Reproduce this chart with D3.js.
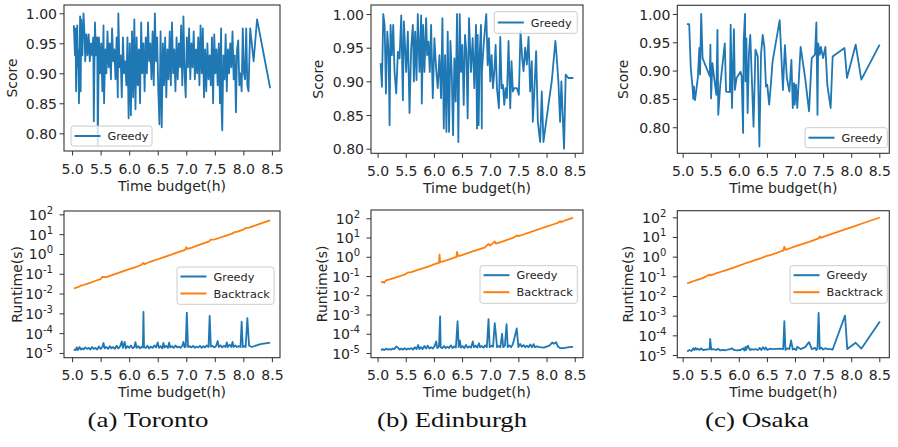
<!DOCTYPE html>
<html><head><meta charset="utf-8">
<script src="https://cdn.jsdelivr.net/npm/d3@7"></script>
<style>body{margin:0;background:#fff}svg{display:block}</style>
</head><body>
<svg id="chart" width="898" height="447"></svg>
<script>
// ---------------- data ----------------
const captions = ["(a) Toronto", "(b) Edinburgh", "(c) Osaka"];
const seriesNames = ["Greedy", "Backtrack"];
const xTicks = [5.0, 5.5, 6.0, 6.5, 7.0, 7.5, 8.0, 8.5];
const scoreTicks = [0.80, 0.85, 0.90, 0.95, 1.00];
const runtimeTicks = [1e-5, 1e-4, 1e-3, 1e-2, 1e-1, 1e0, 1e1, 1e2];
const xLabel = "Time budget(h)";
const scoreLabel = "Score";
const runtimeLabel = "Runtime(s)";

// Toronto: score of greedy [time budget h, score]
const scoreToronto = [
[5.03,0.98],[5.05,0.93],[5.06,0.975],[5.07,0.87],[5.09,0.98],[5.10,0.91],[5.11,0.94],[5.12,0.85],[5.14,0.995],[5.15,0.87],
[5.16,0.99],[5.18,0.93],[5.20,1.00],[5.22,0.96],[5.23,0.92],[5.25,0.965],[5.27,0.93],[5.29,0.965],[5.31,0.92],[5.33,0.95],
[5.35,0.93],[5.37,0.96],[5.38,0.82],[5.40,0.985],[5.42,0.93],[5.44,0.96],[5.45,0.78],[5.47,0.96],[5.49,0.90],[5.51,0.95],
[5.53,0.87],[5.55,0.98],[5.56,0.85],[5.58,0.94],[5.60,0.90],[5.62,0.97],[5.64,0.91],[5.66,0.95],[5.68,0.89],[5.70,0.975],
[5.72,0.92],[5.74,0.94],[5.76,0.89],[5.78,0.96],[5.80,0.86],[5.81,1.00],[5.83,0.91],[5.85,0.93],[5.87,0.86],[5.89,0.96],
[5.91,0.90],[5.93,0.92],[5.95,0.88],[5.97,0.96],[5.99,0.825],[6.01,0.95],[6.03,0.83],[6.05,0.97],[6.07,0.86],[6.09,0.99],
[6.11,0.84],[6.13,0.96],[6.15,0.88],[6.17,0.94],[6.19,0.85],[6.21,0.985],[6.23,0.90],[6.25,0.95],[6.27,0.87],[6.29,0.96],
[6.31,0.90],[6.33,0.985],[6.35,0.92],[6.37,0.95],[6.39,0.89],[6.41,0.97],[6.43,0.88],[6.45,1.00],[6.47,0.92],[6.49,0.96],
[6.51,0.87],[6.53,0.815],[6.55,0.97],[6.57,0.81],[6.59,0.95],[6.61,0.88],[6.63,0.96],[6.65,0.86],[6.67,0.94],[6.69,0.89],
[6.71,0.97],[6.73,0.88],[6.75,0.985],[6.77,0.90],[6.79,0.94],[6.81,0.87],[6.83,0.96],[6.85,0.89],[6.87,0.95],[6.89,0.91],
[6.91,0.98],[6.93,0.88],[6.95,0.995],[6.97,0.90],[6.99,0.86],[7.01,0.96],[7.03,0.91],[7.05,0.975],[7.07,0.89],[7.09,0.95],
[7.11,0.91],[7.13,0.97],[7.15,0.89],[7.17,0.94],[7.19,0.90],[7.21,0.96],[7.23,0.88],[7.25,0.98],[7.27,0.90],[7.29,0.975],
[7.31,0.86],[7.33,0.94],[7.35,0.87],[7.37,0.95],[7.39,0.89],[7.41,0.93],[7.43,0.88],[7.45,0.96],[7.47,0.85],[7.49,0.965],
[7.51,0.90],[7.53,0.94],[7.55,0.88],[7.57,0.95],[7.59,0.85],[7.61,0.975],[7.62,0.835],[7.63,0.805],[7.65,0.93],[7.67,0.89],
[7.69,0.965],[7.71,0.87],[7.73,0.94],[7.75,0.90],[7.77,0.95],[7.79,0.91],[7.81,0.97],[7.83,0.89],[7.85,0.93],[7.87,0.835],
[7.89,0.94],[7.91,0.955],[7.93,0.88],[7.95,0.90],[7.97,0.87],[7.99,0.975],[8.01,0.90],[8.03,0.89],[8.05,0.975],[8.07,0.88],
[8.09,0.87],[8.12,0.975],[8.18,0.92],[8.24,0.99],[8.47,0.875]
];
const greedyRuntimeToronto = [
[5.03,1.5e-5],[5.06,1.4e-5],[5.08,1.9e-5],[5.10,1.4e-5],[5.13,2.0e-5],[5.15,1.5e-5],[5.18,1.7e-5],[5.20,1.5e-5],[5.23,1.9e-5],[5.26,1.6e-5],
[5.29,1.8e-5],[5.32,1.5e-5],[5.35,2.0e-5],[5.38,1.6e-5],[5.41,1.8e-5],[5.44,1.5e-5],[5.47,2.1e-5],[5.50,1.6e-5],[5.53,2.0e-5],[5.55,3.2e-5],
[5.57,1.7e-5],[5.60,2.0e-5],[5.63,1.6e-5],[5.66,2.2e-5],[5.69,1.7e-5],[5.72,2.0e-5],[5.75,1.6e-5],[5.78,2.3e-5],[5.81,1.7e-5],[5.84,2.1e-5],
[5.87,3.8e-5],[5.89,1.8e-5],[5.92,3.6e-5],[5.94,1.7e-5],[5.97,2.2e-5],[6.00,1.8e-5],[6.03,2.4e-5],[6.06,1.7e-5],[6.09,2.0e-5],[6.11,3.5e-5],
[6.13,1.8e-5],[6.16,2.2e-5],[6.19,1.7e-5],[6.22,2.1e-5],[6.24,1.9e-5],[6.25,1.2e-3],[6.26,2.0e-5],[6.29,1.8e-5],[6.32,2.3e-5],[6.35,1.7e-5],
[6.38,2.1e-5],[6.41,1.8e-5],[6.44,2.4e-5],[6.47,1.9e-5],[6.50,3.4e-5],[6.52,1.8e-5],[6.55,2.2e-5],[6.58,1.7e-5],[6.60,3.2e-5],[6.62,1.9e-5],
[6.65,2.3e-5],[6.68,1.8e-5],[6.70,3.3e-5],[6.72,1.9e-5],[6.75,2.2e-5],[6.78,1.8e-5],[6.81,2.4e-5],[6.84,1.9e-5],[6.87,2.1e-5],[6.90,1.8e-5],
[6.93,2.3e-5],[6.95,3.6e-5],[6.97,1.9e-5],[6.99,2.1e-5],[7.01,1.1e-3],[7.03,2.0e-5],[7.06,2.2e-5],[7.09,1.9e-5],[7.12,2.3e-5],[7.15,1.8e-5],
[7.18,2.1e-5],[7.21,1.9e-5],[7.24,2.3e-5],[7.27,1.8e-5],[7.30,2.2e-5],[7.33,1.9e-5],[7.36,2.4e-5],[7.39,2.0e-5],[7.41,7.5e-4],[7.43,2.1e-5],
[7.46,2.3e-5],[7.49,1.9e-5],[7.52,2.2e-5],[7.55,4.0e-5],[7.57,2.0e-5],[7.60,2.4e-5],[7.63,1.9e-5],[7.66,2.3e-5],[7.69,2.0e-5],[7.71,3.4e-5],
[7.73,2.0e-5],[7.76,2.6e-5],[7.79,2.0e-5],[7.81,3.6e-5],[7.83,2.0e-5],[7.86,2.4e-5],[7.89,2.0e-5],[7.92,2.2e-5],[7.95,2.0e-5],[7.97,3.8e-4],
[7.99,2.0e-5],[8.02,2.2e-5],[8.04,2.0e-5],[8.07,5.8e-4],[8.10,2.3e-5],[8.15,2.0e-5],[8.30,2.8e-5],[8.47,3.3e-5]
];
const backtrackRuntimeToronto = [
[5.03,0.018],[5.10,0.021],[5.15,0.025],[5.20,0.027],[5.30,0.034],[5.40,0.043],[5.50,0.054],[5.53,0.07],[5.60,0.068],[5.70,0.085],
[5.80,0.107],[5.90,0.135],[6.00,0.17],[6.10,0.21],[6.20,0.27],[6.25,0.35],[6.27,0.30],[6.30,0.34],[6.40,0.43],[6.50,0.54],
[6.60,0.68],[6.70,0.85],[6.80,1.07],[6.90,1.35],[6.98,1.6],[7.00,2.2],[7.02,1.8],[7.10,2.1],[7.20,2.7],[7.30,3.4],
[7.40,4.3],[7.42,5.2],[7.50,5.4],[7.60,6.8],[7.70,8.5],[7.80,10.7],[7.85,12.6],[7.90,13.5],[8.00,17],[8.05,21],
[8.10,21.4],[8.20,27],[8.30,34],[8.40,43],[8.47,50]
];

// Edinburgh
const scoreEdinburgh = [
[5.054,0.927],[5.077,0.892],[5.101,1.0],[5.125,0.984],[5.148,0.882],[5.172,0.974],[5.195,0.944],[5.213,0.835],[5.23,0.984],[5.254,0.939],
[5.278,0.984],[5.301,0.914],[5.331,0.882],[5.36,0.944],[5.39,0.934],[5.42,0.998],[5.449,0.872],[5.467,0.989],[5.508,0.914],[5.537,0.974],
[5.567,0.853],[5.596,0.949],[5.626,0.984],[5.644,0.90],[5.667,0.974],[5.691,0.902],[5.714,1.0],[5.744,0.914],[5.773,0.998],[5.785,0.867],
[5.809,0.984],[5.832,0.914],[5.862,0.994],[5.88,0.939],[5.903,0.959],[5.927,0.914],[5.95,0.984],[5.98,0.875],[6.009,0.964],[6.039,0.919],
[6.068,0.89],[6.098,0.939],[6.127,0.875],[6.151,0.994],[6.175,0.83],[6.198,0.939],[6.222,0.825],[6.245,0.974],[6.269,0.825],[6.293,0.96],
[6.316,0.914],[6.34,0.82],[6.363,0.934],[6.387,0.87],[6.41,1.0],[6.434,0.81],[6.458,1.0],[6.481,0.914],[6.505,0.954],[6.529,0.865],
[6.552,0.969],[6.576,0.944],[6.599,0.845],[6.623,0.994],[6.658,0.914],[6.688,0.964],[6.717,0.89],[6.747,0.984],[6.765,0.83],[6.777,0.969],
[6.794,0.835],[6.812,0.939],[6.836,0.984],[6.85,0.83],[6.853,0.914],[6.883,0.954],[6.907,0.979],[6.93,1.0],[6.954,0.924],[6.977,0.964],
[7.0,0.90],[7.025,0.939],[7.048,0.89],[7.072,0.914],[7.095,0.954],[7.119,0.89],[7.154,0.86],[7.178,0.966],[7.202,0.89],[7.225,0.895],
[7.249,0.865],[7.272,0.89],[7.296,0.875],[7.325,0.96],[7.355,0.86],[7.378,0.93],[7.402,0.885],[7.426,0.89],[7.473,0.89],[7.508,0.88],
[7.538,0.975],[7.567,0.935],[7.591,0.915],[7.62,0.95],[7.65,0.925],[7.68,0.966],[7.709,0.885],[7.738,0.93],[7.756,0.84],[7.78,0.88],
[7.815,0.945],[7.845,0.84],[7.886,0.81],[7.915,0.885],[7.945,0.81],[8.033,0.865],[8.092,0.90],[8.157,0.96],[8.181,0.935],[8.21,0.90],
[8.24,0.84],[8.263,0.90],[8.31,0.80],[8.34,0.91],[8.387,0.905],[8.476,0.905]
];
const greedyRuntimeEdinburgh = [
[5.06,1.4e-5],[5.09,1.6e-5],[5.12,1.4e-5],[5.15,1.7e-5],[5.18,1.5e-5],[5.21,1.6e-5],[5.24,1.5e-5],[5.27,1.7e-5],[5.30,1.6e-5],[5.33,2.2e-5],
[5.36,1.9e-5],[5.39,1.5e-5],[5.42,1.7e-5],[5.45,1.5e-5],[5.48,1.8e-5],[5.51,1.5e-5],[5.54,1.7e-5],[5.57,1.6e-5],[5.60,1.8e-5],[5.63,1.5e-5],
[5.66,2.0e-5],[5.69,1.6e-5],[5.72,2.6e-5],[5.74,1.6e-5],[5.77,2.0e-5],[5.80,1.6e-5],[5.83,2.3e-5],[5.86,1.7e-5],[5.89,2.4e-5],[5.92,1.7e-5],
[5.95,2.0e-5],[5.98,1.7e-5],[6.01,2.2e-5],[6.04,4.0e-5],[6.06,1.8e-5],[6.09,2.2e-5],[6.11,8.0e-4],[6.12,2.0e-5],[6.15,1.8e-5],[6.18,2.3e-5],
[6.21,1.8e-5],[6.24,2.1e-5],[6.27,1.8e-5],[6.30,2.5e-5],[6.33,1.8e-5],[6.36,2.2e-5],[6.39,1.9e-5],[6.42,4.5e-4],[6.44,2.0e-5],[6.46,4.5e-5],
[6.48,1.9e-5],[6.51,2.3e-5],[6.54,1.8e-5],[6.57,2.6e-5],[6.60,1.9e-5],[6.63,2.2e-5],[6.66,1.9e-5],[6.69,4.0e-5],[6.71,2.0e-5],[6.74,2.4e-5],
[6.77,1.9e-5],[6.80,3.2e-5],[6.82,2.0e-5],[6.85,2.3e-5],[6.88,1.9e-5],[6.91,2.5e-5],[6.94,2.0e-5],[6.97,5.8e-4],[6.99,2.0e-5],[7.02,2.4e-5],
[7.05,2.1e-5],[7.08,3.6e-4],[7.10,1.0e-4],[7.12,2.0e-5],[7.15,2.3e-5],[7.18,2.0e-5],[7.21,1.0e-4],[7.23,2.0e-5],[7.26,2.4e-5],[7.29,3.2e-4],
[7.31,2.0e-5],[7.34,2.5e-5],[7.37,2.0e-5],[7.40,2.8e-5],[7.43,6.0e-5],[7.47,1.9e-4],[7.50,2.0e-5],[7.53,3.0e-5],[7.56,2.1e-5],[7.59,2.6e-5],
[7.62,2.0e-5],[7.65,2.4e-5],[7.68,2.0e-5],[7.71,2.8e-5],[7.74,2.0e-5],[7.77,2.9e-5],[7.79,2.0e-5],[7.82,2.2e-5],[7.88,2.0e-5],[7.95,1.9e-5],
[8.05,2.4e-5],[8.10,3.5e-5],[8.13,3.0e-5],[8.17,3.6e-5],[8.20,2.2e-5],[8.24,1.8e-5],[8.30,1.8e-5],[8.40,2.0e-5],[8.47,2.1e-5]
];
const backtrackRuntimeEdinburgh = [
[5.06,0.047],[5.10,0.050],[5.12,0.045],[5.15,0.06],[5.20,0.065],[5.30,0.081],[5.40,0.10],[5.50,0.126],[5.53,0.15],[5.60,0.158],
[5.70,0.20],[5.80,0.25],[5.90,0.31],[6.00,0.40],[6.05,0.45],[6.09,0.48],[6.10,1.3],[6.11,0.52],[6.20,0.62],[6.30,0.78],
[6.40,0.98],[6.41,1.8],[6.43,1.07],[6.50,1.23],[6.60,1.55],[6.70,1.95],[6.80,2.4],[6.90,3.0],[6.97,4.6],[7.00,3.8],
[7.08,6.3],[7.10,4.8],[7.20,6.0],[7.30,7.6],[7.40,9.5],[7.48,13],[7.50,11.8],[7.60,14.8],[7.70,18.6],[7.80,23.4],
[7.90,29.5],[8.00,37],[8.10,46],[8.20,58],[8.24,71],[8.26,62],[8.30,72],[8.40,91],[8.47,107]
];

// Osaka
const scoreOsaka = [
[5.076,0.982],[5.117,0.982],[5.145,0.904],[5.175,0.872],[5.19,0.85],[5.20,0.872],[5.22,0.848],[5.24,0.863],[5.27,0.887],[5.297,0.94],
[5.31,0.893],[5.33,1.0],[5.355,0.922],[5.483,0.89],[5.494,0.946],[5.506,0.851],[5.53,0.913],[5.565,0.884],[5.60,0.857],[5.62,0.972],
[5.634,0.822],[5.67,0.875],[5.715,0.916],[5.75,0.948],[5.773,0.863],[5.84,0.862],[5.855,0.981],[5.878,0.834],[5.913,0.973],[5.93,0.866],
[5.96,0.887],[6.03,0.898],[6.05,0.89],[6.076,0.79],[6.087,0.954],[6.11,1.0],[6.12,0.881],[6.134,0.957],[6.157,0.825],[6.18,0.93],
[6.204,0.963],[6.227,0.898],[6.262,0.801],[6.296,0.937],[6.337,0.925],[6.366,0.766],[6.395,0.929],[6.425,0.963],[6.454,0.942],[6.483,0.872],
[6.506,0.875],[6.54,0.84],[6.57,0.875],[6.60,0.916],[6.727,0.989],[6.785,0.866],[6.82,0.945],[6.855,0.887],[6.90,0.863],[6.936,0.919],
[6.96,0.834],[6.983,0.878],[6.994,0.84],[7.018,0.875],[7.04,0.834],[7.10,0.942],[7.18,0.887],[7.25,0.828],[7.297,0.922],[7.355,0.928],
[7.38,0.985],[7.40,0.822],[7.413,0.948],[7.44,0.928],[7.46,0.942],[7.50,0.922],[7.54,0.942],[7.575,0.875],[7.634,0.834],[7.67,0.925],
[7.88,0.94],[7.925,0.887],[8.08,0.946],[8.18,0.884],[8.506,0.946]
];
const greedyRuntimeOsaka = [
[5.08,1.5e-5],[5.12,1.8e-5],[5.16,1.6e-5],[5.19,2.2e-5],[5.21,1.8e-5],[5.23,2.3e-5],[5.25,1.9e-5],[5.27,2.1e-5],[5.30,1.8e-5],[5.33,2.2e-5],
[5.36,1.8e-5],[5.48,2.0e-5],[5.49,6.5e-5],[5.51,1.9e-5],[5.55,2.0e-5],[5.60,1.8e-5],[5.63,2.1e-5],[5.67,1.7e-5],[5.72,1.8e-5],[5.76,1.7e-5],
[5.80,1.9e-5],[5.85,2.0e-5],[5.88,2.2e-5],[5.91,1.8e-5],[5.96,1.7e-5],[6.03,1.8e-5],[6.08,2.2e-5],[6.10,1.7e-5],[6.12,2.6e-5],[6.13,1.8e-5],
[6.16,3.0e-5],[6.20,1.8e-5],[6.23,2.0e-5],[6.26,1.9e-5],[6.30,2.0e-5],[6.34,1.8e-5],[6.37,2.3e-5],[6.40,1.8e-5],[6.43,2.5e-5],[6.46,1.9e-5],
[6.48,2.4e-5],[6.51,1.8e-5],[6.55,2.1e-5],[6.60,2.0e-5],[6.73,2.1e-5],[6.79,2.0e-5],[6.81,5.2e-4],[6.83,1.8e-5],[6.86,2.2e-5],[6.90,2.0e-5],
[6.93,5.5e-5],[6.96,1.9e-5],[6.99,2.1e-5],[7.02,1.8e-5],[7.04,2.6e-5],[7.10,2.0e-5],[7.18,2.5e-5],[7.25,4.5e-5],[7.30,2.0e-5],[7.36,2.3e-5],
[7.38,1.8e-5],[7.40,2.2e-5],[7.42,1.4e-3],[7.44,2.0e-5],[7.46,2.4e-5],[7.50,1.9e-5],[7.54,2.2e-5],[7.58,2.0e-5],[7.63,2.0e-5],[7.67,1.9e-5],
[7.89,1.0e-3],[7.93,2.0e-5],[8.08,4.2e-5],[8.18,2.1e-5],[8.51,5.0e-4]
];
const backtrackRuntimeOsaka = [
[5.08,0.044],[5.12,0.048],[5.17,0.054],[5.22,0.060],[5.27,0.068],[5.30,0.071],[5.33,0.076],[5.36,0.081],[5.48,0.125],[5.50,0.112],
[5.55,0.126],[5.62,0.148],[5.67,0.166],[5.75,0.196],[5.84,0.24],[5.91,0.28],[6.03,0.37],[6.11,0.45],[6.20,0.54],[6.30,0.68],
[6.40,0.85],[6.48,1.05],[6.54,1.17],[6.60,1.32],[6.73,1.78],[6.79,2.0],[6.81,3.2],[6.83,2.2],[6.90,2.6],[6.99,3.2],
[7.10,4.1],[7.18,4.9],[7.25,5.7],[7.36,7.4],[7.42,8.5],[7.44,10.5],[7.46,9.1],[7.54,11],[7.63,13.5],[7.67,14.8],
[7.89,24.5],[7.93,26.5],[8.08,37],[8.18,47],[8.51,98]
];

// ---------------- layout (positions only) ----------------
const panels = [
  { score: scoreToronto, greedy: greedyRuntimeToronto, backtrack: backtrackRuntimeToronto,
    L: 64, R: 280, topBox: [5, 151], botBox: [211, 357.7],
    xDom: [4.858, 8.642], sDom: [0.7705, 1.0138], rDom: [-5.24, 2.17],
    sLeg: [71, 126, 81, 20], rLeg: [177, 267, 97, 37.3], sLabX: 12, rLabX: 17, cap: 148, capW: 121 },
  { score: scoreEdinburgh, greedy: greedyRuntimeEdinburgh, backtrack: backtrackRuntimeEdinburgh,
    L: 371, R: 583, topBox: [5, 153.3], botBox: [210, 357.7],
    xDom: [4.883, 8.647], sDom: [0.7932, 1.0134], rDom: [-5.244, 2.43],
    sLeg: [494.3, 11.7, 83, 21.6], rLeg: [480, 265.7, 97.3, 37.6], sLabX: 318, rLabX: 322, cap: 452, capW: 150 },
  { score: scoreOsaka, greedy: greedyRuntimeOsaka, backtrack: backtrackRuntimeOsaka,
    L: 677.3, R: 889.3, topBox: [5.3, 153.3], botBox: [210.7, 357.7],
    xDom: [4.905, 8.678], sDom: [0.754, 1.0153], rDom: [-5.137, 2.336],
    sLeg: [805, 127.7, 82.3, 20], rLeg: [790, 265.7, 97.3, 37.6], sLabX: 623, rLabX: 628, cap: 757, capW: 104 }
];

const BLUE = "#1f77b4", ORANGE = "#ff7f0e", TXT = "#262626", FRAME = "#333333";
const FONT = "DejaVu Sans, sans-serif";
const svg = d3.select("#chart");

function drawXAxis(g, x, bottom) {
  const ax = g.append("g").attr("transform", `translate(0,${bottom})`)
    .call(d3.axisBottom(x).tickValues(xTicks).tickFormat(d3.format(".1f")).tickSize(4.5).tickPadding(0));
  ax.select(".domain").remove();
  ax.selectAll(".tick line").attr("stroke", FRAME).attr("stroke-width", 1);
  ax.selectAll(".tick text").attr("y", 22.5).attr("dy", null)
    .attr("font-family", FONT).attr("font-size", 14).attr("fill", TXT);
}

function legend(g, box, entries) {
  const [lx, ly, lw, lh] = box;
  g.append("rect").attr("x", lx).attr("y", ly).attr("width", lw).attr("height", lh)
    .attr("rx", 2.5).attr("fill", "white").attr("fill-opacity", 0.8)
    .attr("stroke", "#cccccc").attr("stroke-width", 1);
  const step = entries.length > 1 ? 17 : 0;
  const y0 = ly + (entries.length > 1 ? 9.5 : lh / 2);
  entries.forEach((e, i) => {
    const yy = y0 + i * step;
    g.append("line").attr("x1", lx + 3.5).attr("x2", lx + 29.5).attr("y1", yy).attr("y2", yy)
      .attr("stroke", e.color).attr("stroke-width", 2);
    g.append("text").attr("x", lx + 36.5).attr("y", yy + 4).attr("font-family", FONT)
      .attr("font-size", 11.3).attr("fill", TXT).text(e.name);
  });
}

panels.forEach((p, i) => {
  const g = svg.append("g");
  const x = d3.scaleLinear().domain(p.xDom).range([p.L, p.R]);

  // ---------- score panel ----------
  const [t1, b1] = p.topBox;
  const ys = d3.scaleLinear().domain(p.sDom).range([b1, t1]);
  g.append("path").datum(p.score)
    .attr("d", d3.line().x(d => x(d[0])).y(d => ys(d[1])))
    .attr("fill", "none").attr("stroke", BLUE).attr("stroke-width", 1.8).attr("stroke-linejoin", "round");
  g.append("rect").attr("x", p.L).attr("y", t1).attr("width", p.R - p.L).attr("height", b1 - t1)
    .attr("fill", "none").attr("stroke", FRAME).attr("stroke-width", 1.1);
  drawXAxis(g, x, b1);
  const ay = g.append("g").attr("transform", `translate(${p.L},0)`)
    .call(d3.axisLeft(ys).tickValues(scoreTicks).tickFormat(d3.format(".2f")).tickSize(4.5).tickPadding(2.5));
  ay.select(".domain").remove();
  ay.selectAll(".tick line").attr("stroke", FRAME);
  ay.selectAll(".tick text").attr("font-family", FONT).attr("font-size", 14).attr("fill", TXT).attr("dy", "0.36em");
  g.append("text").attr("transform", `translate(${p.sLabX},${(t1 + b1) / 2}) rotate(-90)`)
    .attr("text-anchor", "middle").attr("dominant-baseline", "central")
    .attr("font-family", FONT).attr("font-size", 14).attr("fill", TXT).text(scoreLabel);
  g.append("text").attr("x", (p.L + p.R) / 2).attr("y", b1 + 39.5).attr("text-anchor", "middle")
    .attr("font-family", FONT).attr("font-size", 14).attr("fill", TXT).text(xLabel);
  legend(g, p.sLeg, [{ name: seriesNames[0], color: BLUE }]);

  // ---------- runtime panel ----------
  const [t2, b2] = p.botBox;
  const yr = d3.scaleLog().domain([10 ** p.rDom[0], 10 ** p.rDom[1]]).range([b2, t2]);
  const ln = d3.line().x(d => x(d[0])).y(d => yr(d[1]));
  g.append("path").datum(p.greedy).attr("d", ln).attr("fill", "none")
    .attr("stroke", BLUE).attr("stroke-width", 1.8).attr("stroke-linejoin", "round");
  g.append("path").datum(p.backtrack).attr("d", ln).attr("fill", "none")
    .attr("stroke", ORANGE).attr("stroke-width", 1.8).attr("stroke-linejoin", "round");
  g.append("rect").attr("x", p.L).attr("y", t2).attr("width", p.R - p.L).attr("height", b2 - t2)
    .attr("fill", "none").attr("stroke", FRAME).attr("stroke-width", 1.1);
  drawXAxis(g, x, b2);
  const ar = g.append("g").attr("transform", `translate(${p.L},0)`)
    .call(d3.axisLeft(yr).tickValues(runtimeTicks).tickFormat("").tickSize(4.5));
  ar.select(".domain").remove();
  ar.selectAll(".tick line").attr("stroke", FRAME);
  ar.selectAll(".tick").each(function (d) {
    const t = d3.select(this).append("text").attr("x", -11).attr("y", 5)
      .attr("text-anchor", "end").attr("font-family", FONT).attr("font-size", 14).attr("fill", TXT);
    t.append("tspan").text("10");
    t.append("tspan").attr("dy", -6).attr("font-size", 10).text(String(Math.round(Math.log10(d))));
  });
  g.append("text").attr("transform", `translate(${p.rLabX},${(t2 + b2) / 2}) rotate(-90)`)
    .attr("text-anchor", "middle").attr("dominant-baseline", "central")
    .attr("font-family", FONT).attr("font-size", 14).attr("fill", TXT).text(runtimeLabel);
  g.append("text").attr("x", (p.L + p.R) / 2).attr("y", b2 + 39.5).attr("text-anchor", "middle")
    .attr("font-family", FONT).attr("font-size", 14).attr("fill", TXT).text(xLabel);
  legend(g, p.rLeg, [{ name: seriesNames[0], color: BLUE }, { name: seriesNames[1], color: ORANGE }]);

  // caption
  svg.append("text").attr("x", p.cap).attr("y", 427).attr("text-anchor", "middle")
    .attr("font-family", "Liberation Serif, serif").attr("font-size", 22).attr("fill", "#111")
    .attr("textLength", p.capW).attr("lengthAdjust", "spacingAndGlyphs")
    .text(captions[i]);
});
</script>
</body></html>
